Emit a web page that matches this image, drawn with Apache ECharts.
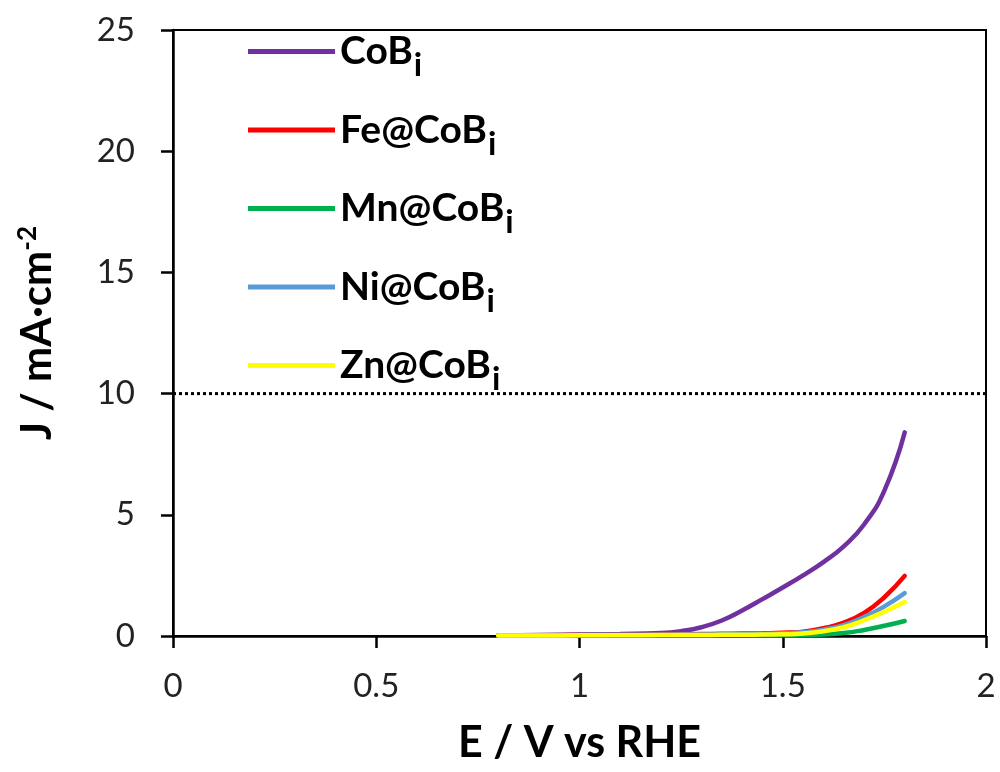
<!DOCTYPE html>
<html><head><meta charset="utf-8">
<script src="https://cdn.jsdelivr.net/npm/echarts@6/dist/echarts.min.js"></script>
<style>html,body{margin:0;padding:0;background:#fff}#c{width:1000px;height:772px}</style>
</head><body><div id="c"></div>
<script>
const potentials = [0.8, 0.9, 1.0, 1.1, 1.2, 1.25, 1.3, 1.35, 1.4, 1.45, 1.5, 1.55, 1.6, 1.65, 1.7, 1.75, 1.8];
const coBi   = [0.02, 0.04, 0.06, 0.08, 0.12, 0.2, 0.36, 0.64, 1.05, 1.52, 2.0, 2.5, 3.05, 3.7, 4.6, 6.0, 8.4];
const feCoBi = [0.02, 0.03, 0.04, 0.05, 0.06, 0.07, 0.08, 0.09, 0.1, 0.11, 0.13, 0.18, 0.32, 0.55, 0.95, 1.6, 2.48];
const mnCoBi = [0.01, 0.02, 0.02, 0.03, 0.03, 0.03, 0.03, 0.03, 0.03, 0.03, 0.03, 0.04, 0.06, 0.12, 0.25, 0.42, 0.62];
const niCoBi = [0.02, 0.03, 0.04, 0.05, 0.05, 0.06, 0.06, 0.07, 0.08, 0.09, 0.11, 0.15, 0.26, 0.45, 0.78, 1.22, 1.77];
const znCoBi = [0.02, 0.02, 0.03, 0.03, 0.04, 0.04, 0.04, 0.05, 0.05, 0.06, 0.07, 0.1, 0.2, 0.36, 0.65, 1.0, 1.4];
const seriesNames = ['CoB', 'Fe@CoB', 'Mn@CoB', 'Ni@CoB', 'Zn@CoB'];
const seriesValues = [coBi, feCoBi, mnCoBi, niCoBi, znCoBi];
const colors = ['#7030A0', '#FF0000', '#00B050', '#5B9BD5', '#FFFF00'];
const xTicks = [0, 0.5, 1, 1.5, 2];
const yTicks = [0, 5, 10, 15, 20, 25];
const refLevel = 10;

const font = 'Lato, "Open Sans", sans-serif';
const series = seriesNames.map((n, i) => ({
  name: n, type: 'line', smooth: 0.5, showSymbol: false,
  data: potentials.map((x, k) => [x, seriesValues[i][k]]),
  lineStyle: { color: colors[i], width: 4.5, cap: 'round' }, itemStyle: { color: colors[i] },
  z: 3 + i
}));
series.push({
  name: 'ref', type: 'line', showSymbol: false, silent: true,
  data: [[xTicks[0], refLevel], [xTicks[xTicks.length - 1], refLevel]],
  lineStyle: { color: '#000', width: 3, type: [3, 3] }, z: 2
});

const chart = echarts.init(document.getElementById('c'));
chart.setOption({
  animation: false,
  backgroundColor: '#fff',
  grid: { left: 173, right: 14, top: 30, bottom: 136, show: true, borderColor: '#000', borderWidth: 2 },
  legend: {
    data: seriesNames, orient: 'vertical', left: 243, top: 27, itemGap: 28.5,
    icon: 'rect', itemWidth: 87, itemHeight: 5,
    formatter: n => '{a|' + n + '}{s|i}',
    textStyle: {
      rich: {
        a: { fontFamily: font, fontSize: 39, lineHeight: 39, fontWeight: 'bold', color: '#000', verticalAlign: 'top' },
        s: { fontFamily: font, fontSize: 33, lineHeight: 33, fontWeight: 'bold', color: '#000', verticalAlign: 'top', padding: [17, 0, 0, 1] }
      }
    }
  },
  xAxis: {
    type: 'value', min: 0, max: 2, interval: 0.5,
    name: 'E / V vs RHE', nameLocation: 'middle', nameGap: 86,
    nameTextStyle: { fontFamily: font, fontSize: 43, fontWeight: 'bold', color: '#000' },
    axisLine: { lineStyle: { color: '#000', width: 2.5 } },
    axisTick: { inside: false, length: 12, lineStyle: { color: '#000', width: 2.5 } },
    axisLabel: { fontFamily: font, fontSize: 33, color: '#222', margin: 34, formatter: v => String(v) },
    splitLine: { show: false }
  },
  yAxis: {
    type: 'value', min: 0, max: 25, interval: 5,
    name: '{a|J / mA·cm}{s|-2}', nameLocation: 'middle', nameGap: 114, nameRotate: 90,
    nameTextStyle: {
      rich: {
        a: { fontFamily: font, fontSize: 42, fontWeight: 'bold', color: '#000' },
        s: { fontFamily: font, fontSize: 26, fontWeight: 'bold', color: '#000', verticalAlign: 'top', padding: [0, 0, 18, 0] }
      }
    },
    axisLine: { lineStyle: { color: '#000', width: 2.5 } },
    axisTick: { inside: false, length: 12, lineStyle: { color: '#000', width: 2.5 } },
    axisLabel: { fontFamily: font, fontSize: 33, color: '#222', margin: 38 },
    splitLine: { show: false }
  },
  series: series
});
</script></body></html>
